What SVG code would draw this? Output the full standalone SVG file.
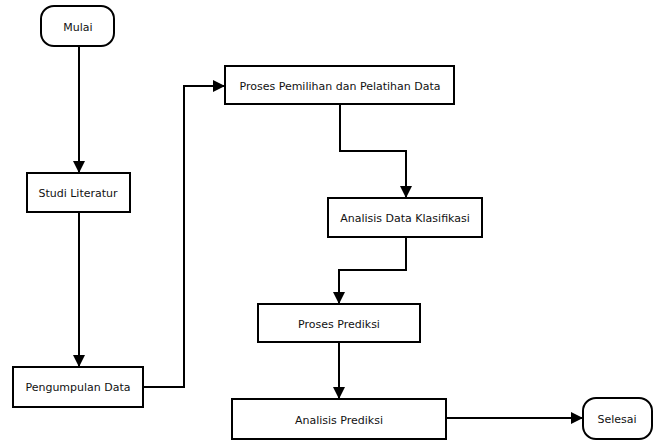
<svg xmlns="http://www.w3.org/2000/svg" width="655" height="443" viewBox="0 0 655 443">
<style>
.box{fill:#fff;stroke:#000;stroke-width:2}
.t{font-family:"DejaVu Sans",Verdana,sans-serif;font-size:11px;fill:#111;text-anchor:middle;dominant-baseline:central}
.c{fill:none;stroke:#000;stroke-width:2;marker-end:url(#ah)}
</style>
<defs>
<marker id="ah" markerWidth="12" markerHeight="12" refX="12" refY="6" orient="auto" markerUnits="userSpaceOnUse">
<path d="M0,0 L12,6 L0,12 Z" fill="#000"/>
</marker>
</defs>
<rect width="655" height="443" fill="#fff"/>
<g id="connectors">
<path class="c" d="M79,46 V173"/>
<path class="c" d="M79,212 V367"/>
<path class="c" d="M143,387 H184 V86 H225"/>
<path class="c" d="M340,104 V151 H406 V198"/>
<path class="c" d="M406,237 V270 H339 V304"/>
<path class="c" d="M339,342 V399"/>
<path class="c" d="M446,418 H583"/>
</g>
<g id="mulai"><rect class="box" x="41" y="6" width="73" height="40" rx="13"/><text class="t" x="78" y="27">Mulai</text></g>
<g id="studi"><rect class="box" x="27" y="173" width="103" height="39"/><text class="t" x="78" y="193">Studi Literatur</text></g>
<g id="pengumpulan"><rect class="box" x="13" y="367" width="130" height="40"/><text class="t" x="78" y="387">Pengumpulan Data</text></g>
<g id="proses-pemilihan"><rect class="box" x="225" y="66" width="229" height="38"/><text class="t" x="340" y="86">Proses Pemilihan dan Pelatihan Data</text></g>
<g id="analisis-klasifikasi"><rect class="box" x="328" y="198" width="154" height="39"/><text class="t" x="405" y="218">Analisis Data Klasifikasi</text></g>
<g id="proses-prediksi"><rect class="box" x="258" y="304" width="162" height="38"/><text class="t" x="339" y="324">Proses Prediksi</text></g>
<g id="analisis-prediksi"><rect class="box" x="232" y="399" width="214" height="40"/><text class="t" x="339" y="420">Analisis Prediksi</text></g>
<g id="selesai"><rect class="box" x="583" y="398" width="69" height="41" rx="13"/><text class="t" x="617" y="419">Selesai</text></g>
</svg>
